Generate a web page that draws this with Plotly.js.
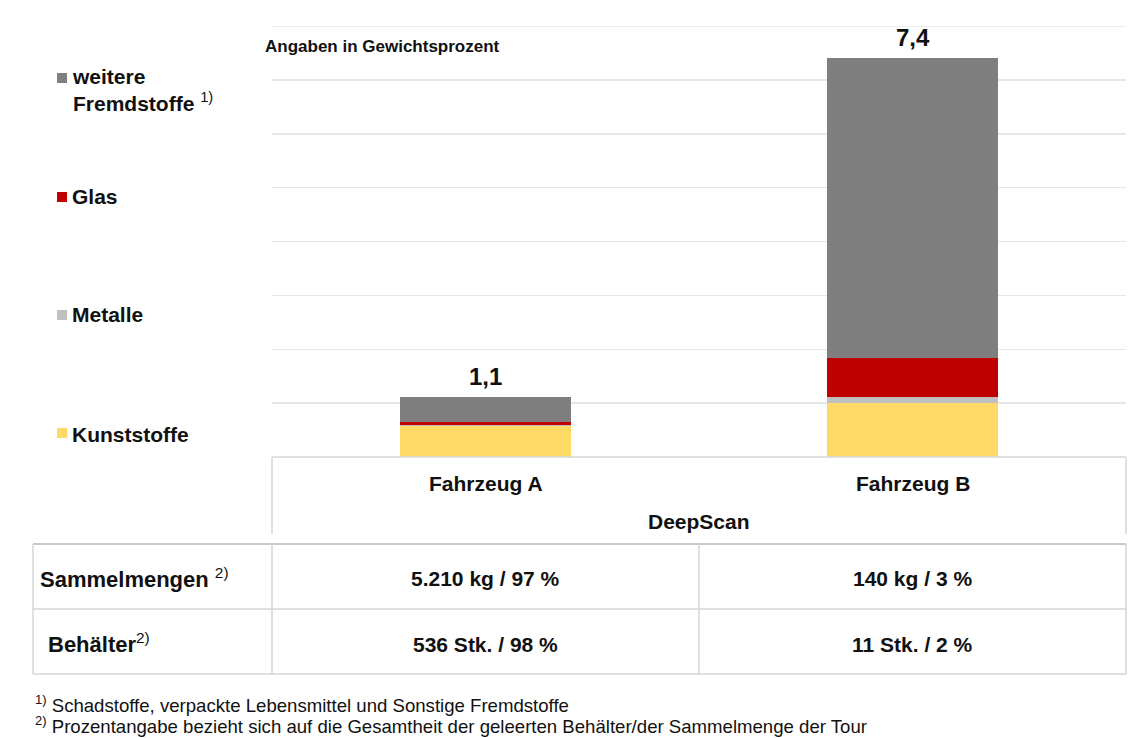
<!DOCTYPE html>
<html>
<head>
<meta charset="utf-8">
<script src="https://cdn.plot.ly/plotly-3.0.1.min.js"></script>
<style>html,body{margin:0;padding:0;background:#fff;}#chart{width:1128px;height:738px;}</style>
</head>
<body>
<div id="chart"></div>
<script>
// ---- data ----
const categories = ['Fahrzeug A', 'Fahrzeug B'];
const seriesNames = ['Kunststoffe', 'Metalle', 'Glas', 'weitere<br>Fremdstoffe'];
const kunststoffe = [0.57, 1.01];
const metalle = [0.03, 0.11];
const glas = [0.05, 0.71];
const weitereFremdstoffe = [0.47, 5.57];
const groupLabel = 'DeepScan';
const noteLabel = 'Angaben in Gewichtsprozent';
const tableRowLabels = ['Sammelmengen', 'Behälter'];
const sammelmengen = ['5.210 kg / 97 %', '140 kg / 3 %'];
const behaelter = ['536 Stk. / 98 %', '11 Stk. / 2 %'];
const footnotes = ['Schadstoffe, verpackte Lebensmittel und Sonstige Fremdstoffe',
                   'Prozentangabe bezieht sich auf die Gesamtheit der geleerten Behälter/der Sammelmenge der Tour'];

// ---- styling ----
const colors = ['#FFD966', '#BFBFBF', '#C00000', '#7F7F7F'];
const FONT = 'Liberation Sans, Arial, sans-serif';
const W = 1128, H = 738;
const L = 272, R = 2, T = 26, B = 281;
const pw = W - L - R, ph = H - T - B;
const px = x => (x - L) / pw;
const py = y => (H - B - y) / ph;
const YMAX = 8;

const seriesValues = [kunststoffe, metalle, glas, weitereFremdstoffe];
const traces = seriesValues.map((vals, i) => ({
  type: 'bar', x: categories, y: vals, name: seriesNames[i],
  marker: {color: colors[i], line: {width: 0}}, hoverinfo: 'skip'
}));

const totals = categories.map((c, j) => seriesValues.reduce((s, v) => s + v[j], 0));

const annotations = [];
const shapes = [];
function txt(text, x, y, size, opts) {
  annotations.push(Object.assign({
    text: text, x: px(x), y: py(y), xref: 'paper', yref: 'paper',
    showarrow: false, xanchor: 'center', yanchor: 'middle',
    font: {family: FONT, size: size, color: '#111'}
  }, opts || {}));
}
function line(x0, y0, x1, y1, color, width) {
  shapes.push({type: 'line', xref: 'paper', yref: 'paper', x0: px(x0), y0: py(y0), x1: px(x1), y1: py(y1),
    line: {color: color, width: width}});
}

// top gridline at axis maximum
shapes.push({type: 'line', xref: 'paper', yref: 'y', x0: 0, x1: 1, y0: YMAX, y1: YMAX,
  line: {color: '#E6E6E6', width: 1.5}, layer: 'below'});

// totals above bars, category labels, table values
categories.forEach((c, j) => {
  annotations.push({text: '<b>' + totals[j].toFixed(1).replace('.', ',') + '</b>', x: c, y: totals[j],
    xref: 'x', yref: 'y', showarrow: false, yanchor: 'bottom', yshift: 5,
    font: {family: FONT, size: 24, color: '#111'}});
  annotations.push({text: '<b>' + c + '</b>', x: c, y: py(483), xref: 'x', yref: 'paper',
    showarrow: false, yanchor: 'middle', font: {family: FONT, size: 21, color: '#111'}});
  annotations.push({text: '<b>' + sammelmengen[j] + '</b>', x: c, y: py(578), xref: 'x', yref: 'paper',
    showarrow: false, yanchor: 'middle', font: {family: FONT, size: 21, color: '#111'}});
  annotations.push({text: '<b>' + behaelter[j] + '</b>', x: c, y: py(644), xref: 'x', yref: 'paper',
    showarrow: false, yanchor: 'middle', font: {family: FONT, size: 21, color: '#111'}});
});

txt('<b>' + noteLabel + '</b>', 263, 46, 17, {xanchor: 'left'});
txt('<b>' + groupLabel + '</b>', 699, 521, 21);

// legend (custom, spread vertically)
const legendY = [434, 315, 196, 90];
const legendSq = [433, 315, 197, 78];
seriesNames.forEach((n, i) => {
  const label = i === 3 ? '<b>weitere</b><br><b>Fremdstoffe</b> <sup>1)</sup>' : '<b>' + n + '</b>';
  txt(label, 70, legendY[i], 21, {xanchor: 'left', align: 'left'});
  shapes.push({type: 'rect', xref: 'paper', yref: 'paper', x0: px(57), x1: px(67),
    y0: py(legendSq[i] - 5), y1: py(legendSq[i] + 5), fillcolor: colors[i], line: {width: 0}});
});

// table row labels
txt('<b>' + tableRowLabels[0] + '</b> <sup>2)</sup>', 38, 578, 22, {xanchor: 'left'});
txt('<b>' + tableRowLabels[1] + '</b><sup>2)</sup>', 46, 643, 22, {xanchor: 'left'});

// footnotes
txt('<sup>1)</sup> ' + footnotes[0], 33, 704, 18.6, {xanchor: 'left'});
txt('<sup>2)</sup> ' + footnotes[1], 33, 725, 18.6, {xanchor: 'left'});

// header box lines
const lc = '#D6D6D6';
line(272, 457, 1126, 457, lc, 1.5);
line(272, 457, 272, 534, lc, 1.5);
line(1126, 457, 1126, 534, lc, 1.5);
// table lines
line(33, 544, 1126, 544, '#C8C8C8', 2);
line(33, 544, 33, 674, lc, 1.5);
line(1126, 544, 1126, 674, lc, 1.5);
line(33, 674, 1126, 674, lc, 1.5);
line(33, 609, 1126, 609, lc, 1.5);
line(272, 544, 272, 674, lc, 1.5);
line(699, 544, 699, 674, lc, 1.5);

const layout = {
  width: W, height: H,
  margin: {l: L, r: R, t: T, b: B, pad: 0},
  paper_bgcolor: '#fff', plot_bgcolor: '#fff',
  barmode: 'stack', bargap: 0.6,
  showlegend: false,
  xaxis: {showticklabels: false, showgrid: false, zeroline: false, showline: false, ticks: ''},
  yaxis: {range: [0, YMAX], dtick: 1, showticklabels: false, showgrid: true, gridcolor: '#E6E6E6', gridwidth: 1.5,
          zeroline: false, showline: false, ticks: ''},
  font: {family: FONT},
  annotations: annotations,
  shapes: shapes
};
Plotly.newPlot('chart', traces, layout, {displayModeBar: false, staticPlot: true});
</script>
</body>
</html>
